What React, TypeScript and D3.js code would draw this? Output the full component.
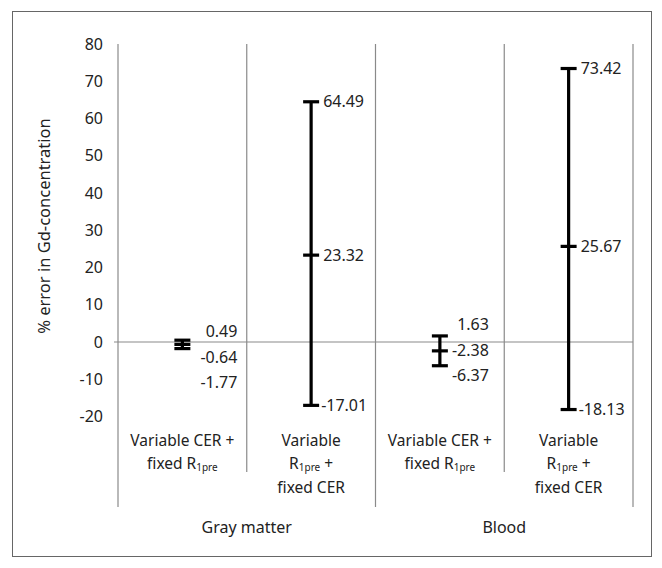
import React from "react";
import * as d3 from "d3";

const categories = ["gmCER", "gmR1", "bCER", "bR1"];
const groups = ["Gray matter", "Blood"];
const upperValues = [0.49, 64.49, 1.63, 73.42];
const meanValues = [-0.64, 23.32, -2.38, 25.67];
const lowerValues = [-1.77, -17.01, -6.37, -18.13];
const upperLabels = ["0.49", "64.49", "1.63", "73.42"];
const meanLabels = ["-0.64", "23.32", "-2.38", "25.67"];
const lowerLabels = ["-1.77", "-17.01", "-6.37", "-18.13"];
const yTicks = [80, 70, 60, 50, 40, 30, 20, 10, 0, -10, -20];

const W = 662, H = 568;
const FONT = "'Noto Sans', sans-serif";
const GRID = "#8a8a8a";
const TXT = "#222";

export default function App() {
  const y = d3.scaleLinear().domain([-20, 80]).range([416.5, 44]);
  const x = d3.scaleBand<string>().domain(categories).range([118, 633]).padding(0);
  const groupScale = d3.scaleBand<string>().domain(groups).range([118, 633]).padding(0);
  const bw = x.bandwidth();
  const cap = 8;

  const catLabel = (i: number) => {
    const cx = (x(categories[i]) as number) + bw / 2;
    const variableCER = i % 2 === 0;
    if (variableCER) {
      return (
        <g key={"cl" + i} fontFamily={FONT} fontSize={15.5} fill={TXT} textAnchor="middle">
          <text x={cx} y={446}>Variable CER +</text>
          <text x={cx} y={469}>
            fixed R<tspan fontSize={10} dy={2}>1pre</tspan>
          </text>
        </g>
      );
    }
    return (
      <g key={"cl" + i} fontFamily={FONT} fontSize={15.5} fill={TXT} textAnchor="middle">
        <text x={cx} y={446}>Variable</text>
        <text x={cx} y={469}>
          R<tspan fontSize={10} dy={2}>1pre</tspan><tspan dy={-2}> +</tspan>
        </text>
        <text x={cx} y={493}>fixed CER</text>
      </g>
    );
  };

  return (
    <svg width={W} height={H} style={{ position: "absolute", left: 0, top: 0 }}>
      <rect x={0} y={0} width={W} height={H} fill="#fff" />
      <rect x={12.5} y={11.5} width={639} height={545} fill="none" stroke="#666" strokeWidth={1} />

      {/* y axis line */}
      <line x1={118} x2={118} y1={44} y2={507} stroke={GRID} strokeWidth={1.2} />
      {/* zero line */}
      <line x1={114} x2={633} y1={y(0)} y2={y(0)} stroke={GRID} strokeWidth={1.2} />
      {/* dividers */}
      {categories.map((c, i) => {
        const xr = (x(c) as number) + bw;
        const long = i % 2 === 1;
        return (
          <line key={"d" + i} x1={xr} x2={xr} y1={44} y2={long ? 507 : 472} stroke={GRID} strokeWidth={1.2} />
        );
      })}

      {/* y tick labels */}
      {yTicks.map((t) => (
        <text key={"t" + t} x={103} y={y(t)} dy="0.35em" textAnchor="end" fontFamily={FONT} fontSize={16} fill={TXT}>
          {t}
        </text>
      ))}

      {/* y title */}
      <text
        transform={`translate(50,${226}) rotate(-90)`}
        textAnchor="middle"
        fontFamily={FONT}
        fontSize={16.5}
        fill={TXT}
      >
        % error in Gd-concentration
      </text>

      {/* error bars */}
      {categories.map((c, i) => {
        const cx = (x(c) as number) + bw / 2;
        const yu = y(upperValues[i]);
        const ym = y(meanValues[i]);
        const yl = y(lowerValues[i]);
        return (
          <g key={"e" + i} stroke="#000" strokeWidth={3.2}>
            <line x1={cx} x2={cx} y1={yu} y2={yl} />
            <line x1={cx - cap} x2={cx + cap} y1={yu} y2={yu} />
            <line x1={cx - cap} x2={cx + cap} y1={ym} y2={ym} />
            <line x1={cx - cap} x2={cx + cap} y1={yl} y2={yl} />
          </g>
        );
      })}

      {/* value labels */}
      {categories.map((c, i) => {
        const cx = (x(c) as number) + bw / 2;
        const small = i % 2 === 0;
        const props = { fontFamily: FONT, fontSize: 16, fill: TXT };
        if (small) {
          const xe = cx + (i === 0 ? 55 : 49);
          const y0 = y(0);
          const ym = y(meanValues[i]);
          const mid = ym - y0 < 5 ? ym + 13 : ym;
          return (
            <g key={"v" + i} {...props} textAnchor="end">
              <text x={xe} y={mid - 26} dy="0.35em">{upperLabels[i]}</text>
              <text x={xe} y={mid} dy="0.35em">{meanLabels[i]}</text>
              <text x={xe} y={mid + 25} dy="0.35em">{lowerLabels[i]}</text>
            </g>
          );
        }
        return (
          <g key={"v" + i} {...props} textAnchor="start">
            <text x={cx + 12} y={y(upperValues[i])} dy="0.35em">{upperLabels[i]}</text>
            <text x={cx + 12} y={y(meanValues[i])} dy="0.35em">{meanLabels[i]}</text>
            <text x={cx + 10} y={y(lowerValues[i])} dy="0.35em">{lowerLabels[i]}</text>
          </g>
        );
      })}

      {/* category labels */}
      {categories.map((_, i) => catLabel(i))}

      {/* group labels */}
      {groups.map((g) => (
        <text
          key={g}
          x={(groupScale(g) as number) + groupScale.bandwidth() / 2}
          y={533}
          textAnchor="middle"
          fontFamily={FONT}
          fontSize={16}
          fill={TXT}
        >
          {g}
        </text>
      ))}
    </svg>
  );
}
